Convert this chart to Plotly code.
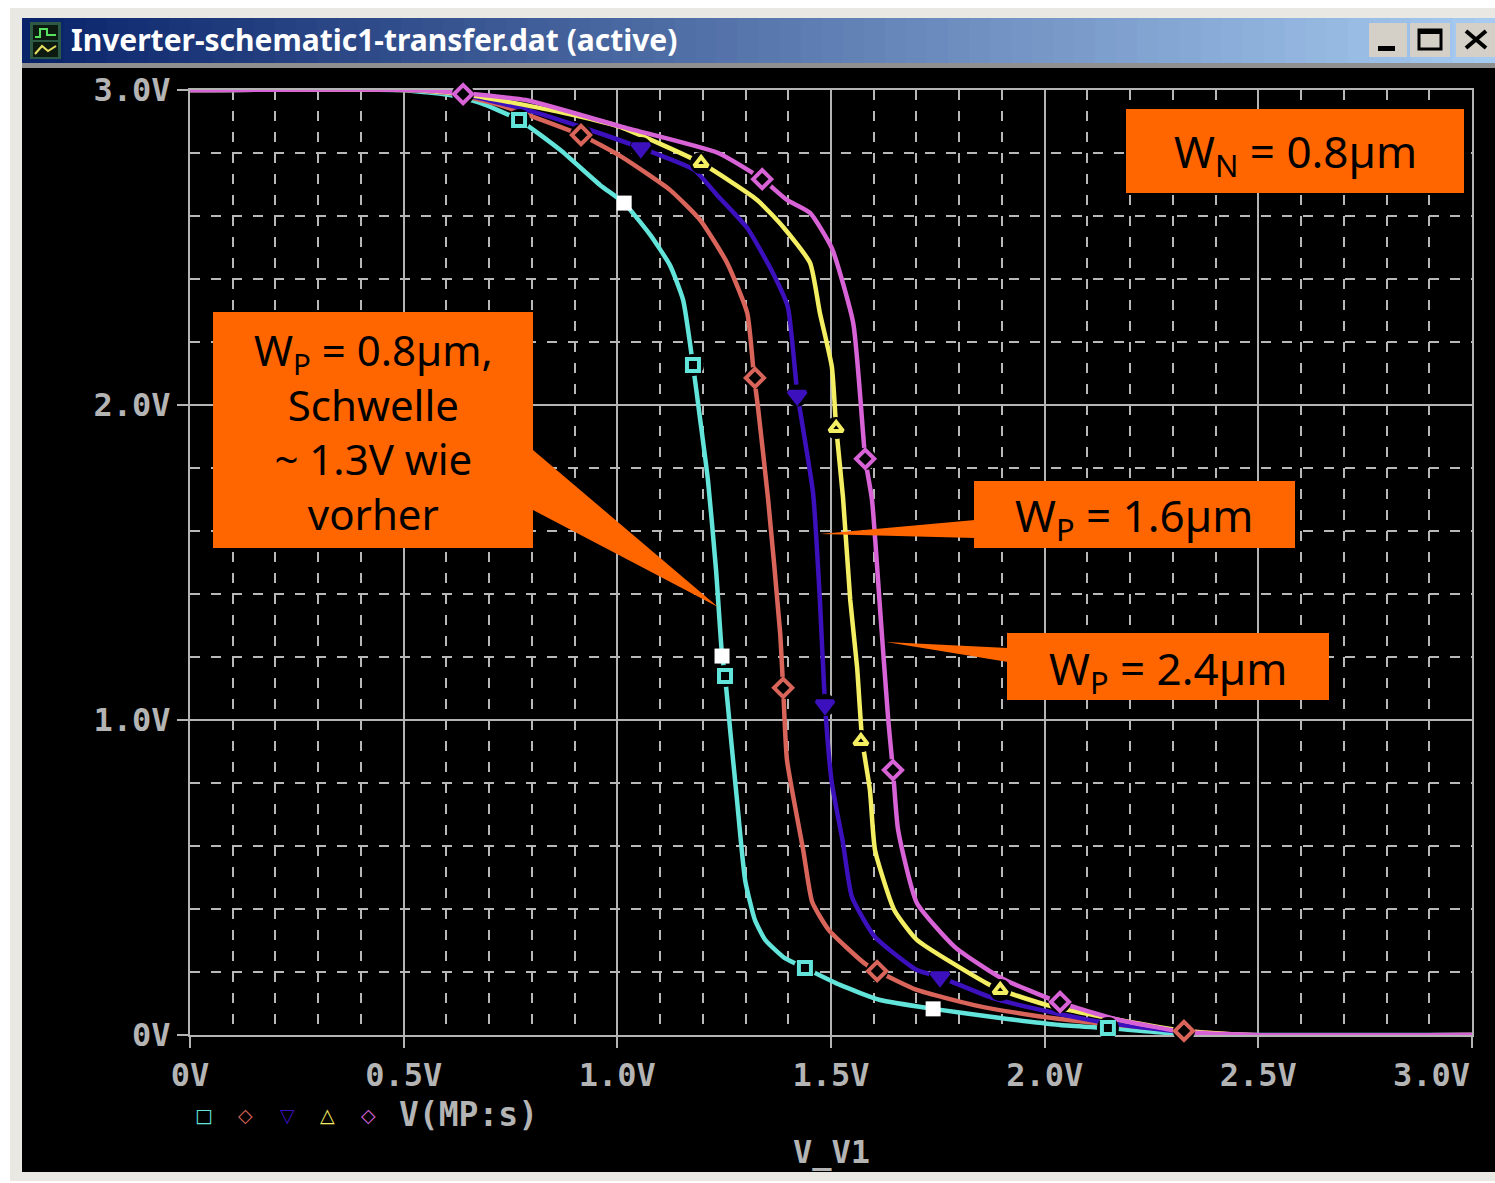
import plotly.graph_objects as go

W, H = 1495, 1183
L, R, T, B = 190, 1472, 90, 1035

TITLE = "Inverter-schematic1-transfer.dat (active)"
X_TICKS = [0, 0.5, 1.0, 1.5, 2.0, 2.5, 3.0]
X_LABELS = ["<b>0V</b>", "<b>0.5V</b>", "<b>1.0V</b>", "<b>1.5V</b>", "<b>2.0V</b>", "<b>2.5V</b>", ""]
Y_TICKS = [0, 1, 2, 3]
Y_LABELS = ["<b>0V</b>", "<b>1.0V</b>", "<b>2.0V</b>", "<b>3.0V</b>"]

cyan_x = [0, .491, .608, .679, .770, .866, .960, 1.016, 1.077, 1.123, 1.154, 1.177, 1.194, 1.212, 1.231, 1.245, 1.252, 1.264, 1.280, 1.299, 1.322, 1.346, 1.392, 1.439, 1.521, 1.615, 1.739, 1.896, 2.036, 2.148, 2.293, 2.481, 3]
cyan_y = [3, 3, 2.984, 2.959, 2.905, 2.81, 2.698, 2.641, 2.54, 2.444, 2.333, 2.127, 1.952, 1.762, 1.476, 1.206, 1.14, .968, .746, .492, .365, .302, .244, .213, .159, .111, .083, .054, .032, .022, .006, 0, 0]
red_x = [0, .503, .608, .725, .915, 1.011, 1.123, 1.194, 1.257, 1.304, 1.320, 1.329, 1.353, 1.381, 1.388, 1.397, 1.435, 1.456, 1.495, 1.577, 1.608, 1.701, 1.835, 1.970, 2.123, 2.326, 2.481, 3]
red_y = [3, 3, 2.99, 2.952, 2.857, 2.787, 2.683, 2.587, 2.451, 2.292, 2.089, 1.994, 1.698, 1.276, 1.102, .873, .587, .422, .333, .229, .203, .143, .095, .063, .038, .013, 0, 0]
blue_x = [0, .515, .632, .772, .936, 1.055, 1.180, 1.233, 1.304, 1.364, 1.399, 1.421, 1.458, 1.474, 1.486, 1.502, 1.528, 1.549, 1.603, 1.701, 1.755, 1.879, 2.024, 2.148, 2.326, 2.481, 3]
blue_y = [3, 3, 2.987, 2.943, 2.873, 2.816, 2.746, 2.667, 2.562, 2.419, 2.311, 2.041, 1.721, 1.381, 1.048, .8, .61, .438, .311, .206, .184, .117, .07, .038, .01, 0, 0]
yellow_x = [0, .527, .655, .866, 1.006, 1.196, 1.327, 1.388, 1.451, 1.474, 1.502, 1.512, 1.528, 1.545, 1.561, 1.573, 1.591, 1.603, 1.648, 1.701, 1.863, 1.896, 2.006, 2.174, 2.326, 2.481, 3]
yellow_y = [3, 3, 2.984, 2.93, 2.883, 2.768, 2.651, 2.565, 2.451, 2.292, 2.121, 1.93, 1.708, 1.381, 1.168, .937, .778, .587, .397, .302, .165, .143, .095, .048, .013, 0, 0]
magenta_x = [0, .538, .637, .786, 1.011, 1.236, 1.339, 1.397, 1.451, 1.502, 1.552, 1.575, 1.580, 1.596, 1.615, 1.634, 1.645, 1.657, 1.701, 1.790, 1.898, 2.031, 2.174, 2.326, 2.481, 3]
magenta_y = [3, 3, 2.99, 2.968, 2.883, 2.8, 2.717, 2.651, 2.61, 2.498, 2.26, 1.911, 1.829, 1.698, 1.349, 1, .841, .651, .419, .279, .181, .105, .048, .01, 0, 0]

cyan_mx = [.770, 1.177, 1.252, 1.439, 2.148]
cyan_my = [2.905, 2.127, 1.14, .213, .022]
white_mx = [1.016, 1.245, 1.739]
white_my = [2.641, 1.203, .083]
red_mx = [.915, 1.322, 1.388, 1.608, 2.326]
red_my = [2.857, 2.086, 1.102, .203, .013]
blue_mx = [1.055, 1.421, 1.486, 1.755]
blue_my = [2.816, 2.03, 1.048, .184]
yellow_mx = [1.196, 1.512, 1.570, 1.896]
yellow_my = [2.768, 1.927, .933, .143]
magenta_mx = [.639, 1.339, 1.580, 1.645, 2.036]
magenta_my = [2.987, 2.717, 1.829, .841, .105]

GREY = "#b4b4b4"
ORANGE = "#ff6600"
CYAN, RED, BLUE, YELLOW, MAGENTA = "#62e4da", "#d9655a", "#3c10bc", "#f4ee62", "#d763d6"


def px(x):
    return (x - L) / (R - L)


def py(y):
    return (B - y) / (B - T)


fig = go.Figure()
series = [
    (cyan_x, cyan_y, cyan_mx, cyan_my, CYAN, "square-open", 12),
    (red_x, red_y, red_mx, red_my, RED, "diamond-open", 14),
    (blue_x, blue_y, blue_mx, blue_my, BLUE, "triangle-down", 15),
    (yellow_x, yellow_y, yellow_mx, yellow_my, YELLOW, "triangle-up-open", 12),
    (magenta_x, magenta_y, magenta_mx, magenta_my, MAGENTA, "diamond-open", 14),
]
for xs, ys, mx, my, col, sym, size in series:
    fig.add_trace(go.Scatter(x=xs, y=ys, mode="lines", cliponaxis=False,
                             line=dict(color=col, width=4.5, shape="spline", smoothing=0.5), hoverinfo="skip"))
for xs, ys, mx, my, col, sym, size in series:
    fig.add_trace(go.Scatter(x=mx, y=my, mode="markers", cliponaxis=False,
                             marker=dict(symbol="circle", size=22, color="#000000"), hoverinfo="skip"))
    fig.add_trace(go.Scatter(x=mx, y=my, mode="markers", cliponaxis=False,
                             marker=dict(symbol=sym, size=size, color=col, line=dict(color=col, width=4)),
                             hoverinfo="skip"))
fig.add_trace(go.Scatter(x=white_mx, y=white_my, mode="markers", cliponaxis=False,
                         marker=dict(symbol="square", size=15, color="#ffffff"), hoverinfo="skip"))

shapes = []


def rect(x0, y0, x1, y1, color, layer="below"):
    shapes.append(dict(type="rect", xref="paper", yref="paper", x0=px(x0), x1=px(x1), y0=py(y0), y1=py(y1),
                       fillcolor=color, line=dict(width=0), layer=layer))


def poly(points, color, layer="above"):
    d = "M " + " L ".join(f"{px(a):.5f},{py(b):.5f}" for a, b in points) + " Z"
    shapes.append(dict(type="path", xref="paper", yref="paper", path=d, fillcolor=color,
                       line=dict(width=0), layer=layer))


# window frame
rect(10, 8, W, 1181, "#e9e8e2")
rect(22, 66, W, 1172, "#000000")
# title bar gradient
steps = 70
for i in range(steps):
    t = i / (steps - 1)
    c0, c1 = (10, 36, 106), (166, 202, 240)
    col = "rgb(%d,%d,%d)" % tuple(round(a + (b - a) * t) for a, b in zip(c0, c1))
    x0 = 22 + (W - 22) * i / steps
    rect(x0, 18, x0 + (W - 22) / steps + 1, 63, col)
rect(22, 63, W, 68, "#8f8f8f")
# icon
rect(30, 22, 61, 59, "#2c5a44")
rect(33, 25, 58, 40, "#0d1a10")
rect(33, 42, 58, 57, "#0d1a10")
shapes.append(dict(type="path", xref="paper", yref="paper", layer="below",
                   path=f"M {px(35)},{py(37)} L {px(40)},{py(37)} L {px(40)},{py(29)} L {px(47)},{py(29)} L {px(47)},{py(35)} L {px(56)},{py(35)}",
                   line=dict(color="#58e060", width=2)))
shapes.append(dict(type="path", xref="paper", yref="paper", layer="below",
                   path=f"M {px(35)},{py(54)} L {px(42)},{py(46)} L {px(48)},{py(51)} L {px(56)},{py(46)}",
                   line=dict(color="#e8e060", width=2)))
# window buttons
for a, b in [(1369, 1407), (1410, 1450), (1456, 1495)]:
    rect(a, 23, b, 57, "#d4d0c8")
rect(1378, 46, 1395, 51, "#000000")
shapes.append(dict(type="rect", xref="paper", yref="paper", x0=px(1419), x1=px(1441), y0=py(30), y1=py(49),
                   line=dict(color="#000000", width=3), layer="below"))
rect(1419, 29, 1441, 34, "#000000")
for p, q in [((1466, 31), (1486, 48)), ((1466, 48), (1486, 31))]:
    shapes.append(dict(type="line", xref="paper", yref="paper", x0=px(p[0]), y0=py(p[1]), x1=px(q[0]), y1=py(q[1]),
                       line=dict(color="#000000", width=4), layer="below"))

# orange call-outs
rect(1126, 109, 1464, 193, ORANGE, "above")
rect(213, 312, 533, 548, ORANGE, "above")
rect(974, 481, 1295, 548, ORANGE, "above")
rect(1007, 633, 1329, 700, ORANGE, "above")
poly([(533, 450), (718, 607), (533, 510)], ORANGE)
poly([(975, 520), (820, 534), (975, 538)], ORANGE)
poly([(1008, 648), (886, 642), (1008, 662)], ORANGE)

ann = []


def text(x, y, s, size, color, family, anchor="center", vanchor="middle"):
    ann.append(dict(xref="paper", yref="paper", x=px(x), y=py(y), text=s, showarrow=False, xanchor=anchor,
                    yanchor=vanchor, font=dict(size=size, color=color, family=family)))


SANS = "Noto Sans, sans-serif"
MONO = "DejaVu Sans Mono, monospace"
text(69, 40, f"<b>{TITLE}</b>", 30, "#ffffff", SANS, "left")
text(1295, 153, "W<sub>N</sub> = 0.8µm", 44, "#000000", SANS)
text(373, 431, "W<sub>P</sub> = 0.8µm,<br>Schwelle<br>~ 1.3V wie<br>vorher", 42, "#000000", SANS)
text(1134, 517, "W<sub>P</sub> = 1.6µm", 44, "#000000", SANS)
text(1168, 670, "W<sub>P</sub> = 2.4µm", 44, "#000000", SANS)
text(1472, 1075, "<b>3.0V</b>", 32, GREY, MONO, "right")
# legend row
for gx, glyph, col in [(204, "□", CYAN), (245, "◇", RED), (287, "▽", BLUE), (327, "△", YELLOW), (368, "◇", MAGENTA)]:
    text(gx, 1115, glyph, 19, col, "DejaVu Sans")
text(397, 1114, "<b>V(MP:s)</b>", 33, GREY, MONO, "left")
text(831, 1152, "<b>V_V1</b>", 32, GREY, MONO)

axis = dict(showline=True, linecolor=GREY, linewidth=2, mirror=True, zeroline=False, showgrid=True,
            gridcolor=GREY, gridwidth=2, ticks="outside", tickcolor=GREY, tickwidth=2, ticklen=11,
            tickfont=dict(family=MONO, size=32, color=GREY), tickmode="array", layer="below traces",
            fixedrange=True)
minor = dict(showgrid=True, gridcolor="#b8b8b8", gridwidth=2, griddash="10px,11px", ticks="")

fig.update_layout(
    width=W, height=H, autosize=False, showlegend=False,
    margin=dict(l=L, r=W - R, t=T, b=H - B, pad=0),
    paper_bgcolor="#ffffff", plot_bgcolor="#000000",
    xaxis=dict(axis, range=[0, 3], tickvals=X_TICKS, ticktext=X_LABELS, minor=dict(minor, dtick=0.1)),
    yaxis=dict(axis, range=[0, 3], tickvals=Y_TICKS, ticktext=Y_LABELS, minor=dict(minor, dtick=0.2)),
    shapes=shapes, annotations=ann,
)
fig.write_html("out.html", post_script="document.body.style.margin='0';document.documentElement.style.overflow='hidden';",
               config=dict(displayModeBar=False))
